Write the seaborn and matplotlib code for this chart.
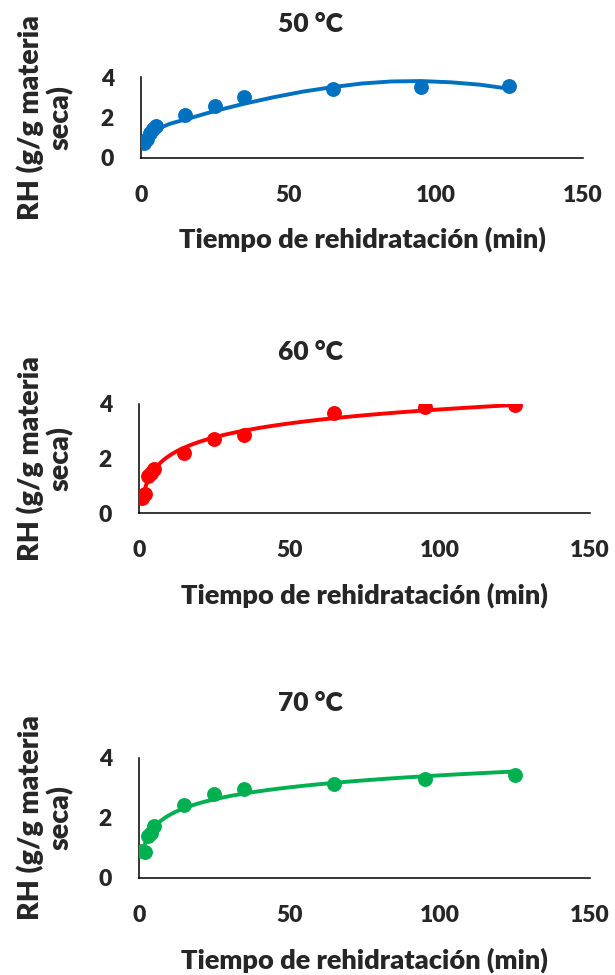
import matplotlib
matplotlib.use("Agg")
import matplotlib.pyplot as plt
import pandas as pd
import seaborn as sns

# Data (RH vs rehydration time)
tiempo = [1, 2, 3, 4, 5, 15, 25, 35, 65, 95, 125]
rh_50 = [0.75, 0.95, 1.25, 1.45, 1.58, 2.12, 2.58, 3.02, 3.40, 3.51, 3.55]
rh_60 = [0.55, 0.70, 1.35, 1.45, 1.60, 2.20, 2.70, 2.86, 3.66, 3.88, 3.96]
rh_70 = [0.90, 0.88, 1.40, 1.50, 1.72, 2.42, 2.80, 2.97, 3.15, 3.30, 3.42]

# 50 °C trend line
curva_x_50 = [1, 3, 5, 10, 15, 25, 35, 45, 55, 65, 75, 85, 95, 105, 115, 125]
curva_y_50 = [0.82, 1.18, 1.40, 1.70, 1.90, 2.32, 2.68, 3.00, 3.28, 3.50,
              3.68, 3.78, 3.80, 3.74, 3.62, 3.42]

temps = ["50 °C", "60 °C", "70 °C"]
colores = ["#0070C0", "#FF0000", "#00B050"]
x_ticks = [0, 50, 100, 150]
y_ticks = [0, 2, 4]

sns.set_style("white")
plt.rcParams["font.family"] = ["Lato", "DejaVu Sans"]

W, H = 615, 975
fig = plt.figure(figsize=(W / 100, H / 100), dpi=100)

# axes boxes in pixels: (left, top, right, bottom)
boxes = [(141, 77, 583, 158), (139, 404, 590, 513), (139, 758, 590, 878)]
title_y = [24, 352, 703]
xlabel_y = [239, 595, 960]
peso = "heavy"

series = [rh_50, rh_60, rh_70]
for i, (rh, color, temp) in enumerate(zip(series, colores, temps)):
    l, t, r, b = boxes[i]
    ax = fig.add_axes([l / W, 1 - b / H, (r - l) / W, (b - t) / H])
    df = pd.DataFrame({"tiempo": tiempo, "rh": rh})
    sc = dict(s=115, alpha=1, linewidths=0, zorder=3)
    if i == 0:
        sns.regplot(data=df, x="tiempo", y="rh", ax=ax, fit_reg=False,
                    color=color, scatter_kws=sc)
        sns.lineplot(x=curva_x_50, y=curva_y_50, ax=ax, color=color,
                     lw=2.8, zorder=2)
    else:
        sns.regplot(data=df, x="tiempo", y="rh", ax=ax, ci=None, color=color,
                    logx=True, scatter_kws=sc, line_kws=dict(lw=2.8, zorder=2))
    ax.set_xlim(0, 150)
    ax.set_ylim(0, 4)
    ax.set_xticks(x_ticks)
    ax.set_yticks(y_ticks)
    ax.spines[["top", "right"]].set_visible(False)
    for s in ["left", "bottom"]:
        ax.spines[s].set_linewidth(1.1)
        ax.spines[s].set_color("black")
    ax.tick_params(axis="both", direction="out", length=6.5, width=1.1,
                   color="black", labelsize=16.5, pad=13)
    for lab in ax.get_xticklabels() + ax.get_yticklabels():
        lab.set_fontweight(peso)
    ax.set_xlabel("Tiempo de rehidratación (min)", fontsize=19.5,
                  fontweight=peso, va="center")
    ax.xaxis.set_label_coords(0.5, (b - xlabel_y[i]) / (b - t))
    ax.set_ylabel("RH (g/g materia\nseca)", fontsize=20.5, fontweight=peso,
                  va="center", multialignment="center", linespacing=1.1)
    ax.yaxis.set_label_coords((45 - l) / (r - l), 0.5)
    fig.text(310 / W, 1 - title_y[i] / H, temp, ha="center", va="center",
             fontsize=19, fontweight=peso)

fig.savefig("out.png", dpi=100)
